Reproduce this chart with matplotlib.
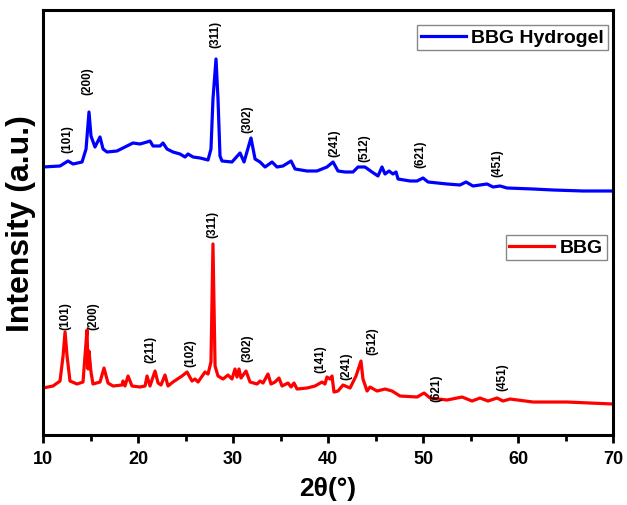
"""
XRD: BBG vs BBG Hydrogel
Patrones leídos a mano de la figura original (intensidad en u.a.).
"""

import matplotlib
matplotlib.use("Agg")
import matplotlib.pyplot as plt

plt.rcParams["font.family"] = ["Liberation Sans", "DejaVu Sans"]
plt.rcParams["font.weight"] = "bold"

# --- datos ---
hidrogel_2theta = [
    10.0, 11.79, 12.63, 13.16, 14.11, 14.53, 14.84, 15.05, 15.47, 16.0,
    16.32, 16.74, 17.79, 18.84, 19.47, 20.21, 20.95, 21.26, 21.58, 22.32,
    22.63, 23.05, 23.68, 24.42, 24.95, 25.26, 25.79, 26.53, 27.37,
    27.68, 27.89, 28.21, 28.42, 28.63, 28.84, 29.89, 30.74, 31.16, 31.89,
    32.32, 32.84, 33.37, 34.11, 34.63, 35.26, 36.11, 36.53, 37.79, 38.84,
    39.89, 40.53, 41.05, 41.79, 42.63, 43.16, 43.89, 44.63, 45.26, 45.68,
    46.0, 46.42, 46.84, 47.16, 47.37, 48.63, 49.37, 50.0, 50.53, 52.53,
    53.89, 54.53, 55.26, 56.74, 57.37, 58.11, 58.84, 61.58, 63.68, 66.84,
    70.0,
]
hidrogel_int = [
    266, 267, 272, 269, 271, 284, 321, 297, 286, 296,
    284, 281, 282, 287, 290, 289, 291, 292, 287, 287,
    290, 284, 281, 279, 276, 279, 276, 275, 273,
    284, 334, 374, 334, 277, 272, 271, 280, 271, 295,
    274, 271, 266, 271, 266, 267, 272, 264, 262, 262,
    266, 271, 262, 261, 261, 266, 266, 261, 257, 266,
    259, 262, 259, 261, 254, 252, 252, 255, 251, 249,
    248, 251, 247, 249, 246, 247, 245, 244, 243, 242,
    242,
]

bbg_2theta = [
    10.0, 11.05, 11.79, 12.11, 12.32, 12.53, 12.84, 13.58, 14.21, 14.42,
    14.63, 14.74, 14.84, 15.05, 15.26, 16.0, 16.42, 16.84, 17.37, 18.32,
    18.42, 18.63, 18.95, 19.37, 20.21, 20.74, 20.95, 21.26, 21.79, 22.11,
    22.42, 22.84, 23.16, 23.68, 24.63, 25.16, 25.68, 26.0, 26.32, 27.05,
    27.37, 27.68, 27.89, 28.11, 28.42, 28.95, 29.47, 29.89, 30.21, 30.42,
    30.63, 30.84, 31.37, 31.79, 32.53, 32.84, 33.16, 33.68, 34.0, 34.42,
    34.84, 35.16, 35.79, 36.11, 36.42, 36.74, 37.79, 38.63, 39.37, 39.68,
    39.89, 40.21, 40.42, 40.63, 41.05, 41.58, 42.32, 42.95, 43.47, 43.68,
    44.11, 44.42, 45.16, 46.0, 46.74, 47.58, 49.37, 50.11, 50.74, 52.53,
    54.11, 55.16, 56.0, 56.84, 57.79, 58.42, 59.16, 61.58, 65.16, 70.0,
]
bbg_int = [
    45, 47, 52, 77, 101, 77, 52, 49, 51, 77,
    103, 64, 82, 61, 49, 51, 65, 50, 47, 48,
    52, 47, 57, 47, 46, 47, 57, 47, 62, 50,
    48, 58, 47, 51, 57, 61, 52, 54, 51, 61,
    59, 71, 189, 67, 57, 54, 58, 54, 64, 56,
    64, 55, 62, 51, 49, 52, 50, 59, 49, 51,
    55, 47, 50, 46, 50, 44, 45, 47, 51, 49,
    56, 54, 57, 41, 42, 48, 45, 57, 72, 54,
    42, 46, 42, 44, 42, 37, 36, 40, 35, 33,
    36, 32, 35, 32, 35, 32, 34, 31, 31, 29,
]

# planos (hkl) marcados en cada patrón
hidrogel_hkl = ["(101)", "(200)", "(311)", "(302)", "(241)", "(512)", "(621)", "(451)"]
hidrogel_hkl_2theta = [12.53, 14.63, 28.11, 31.47, 40.63, 43.79, 49.68, 57.79]
hidrogel_hkl_y = [281, 339, 386, 301, 277, 272, 266, 257]

bbg_hkl = ["(101)", "(200)", "(211)", "(102)", "(311)", "(302)",
           "(141)", "(241)", "(512)", "(621)", "(451)"]
bbg_hkl_2theta = [12.32, 15.26, 21.26, 25.47, 27.79, 31.47,
                  39.16, 41.89, 44.63, 51.37, 58.32]
bbg_hkl_y = [104, 104, 71, 67, 196, 72, 61, 54, 79, 32, 43]

# --- figura ---
fig = plt.figure(figsize=(6.27, 5.06), dpi=100)
ax = fig.add_axes([0.0686, 0.1383, 0.9091, 0.84])

l_hid, = ax.plot(hidrogel_2theta, hidrogel_int, color="#0000ff", lw=2.3,
                 solid_joinstyle="round")
l_bbg, = ax.plot(bbg_2theta, bbg_int, color="#ff0000", lw=2.3,
                 solid_joinstyle="round")

for lab, x, y in zip(hidrogel_hkl, hidrogel_hkl_2theta, hidrogel_hkl_y):
    ax.text(x, y, lab, rotation=90, ha="center", va="bottom", fontsize=8.5, fontweight="bold")
for lab, x, y in zip(bbg_hkl, bbg_hkl_2theta, bbg_hkl_y):
    ax.text(x, y, lab, rotation=90, ha="center", va="bottom", fontsize=8.5, fontweight="bold")

ax.set_xlim(10, 70)
ax.set_ylim(-2, 423)
ax.set_xticks(range(10, 71, 10))
ax.set_xticks(range(15, 70, 10), minor=True)
ax.set_yticks([])
ax.tick_params(axis="x", which="major", direction="out", length=6, width=2, pad=5, labelsize=13)
ax.tick_params(axis="x", which="minor", direction="out", length=4, width=2)
for lbl in ax.get_xticklabels():
    lbl.set_fontweight("bold")
for sp in ax.spines.values():
    sp.set_linewidth(2.2)

ax.set_xlabel("2θ(°)", fontsize=19, fontweight="bold", labelpad=6)
ax.set_ylabel("Intensity (a.u.)", fontsize=23, fontweight="bold", labelpad=5)

leg_kw = dict(loc="upper right", fancybox=False, edgecolor="#888888", framealpha=1,
              borderpad=0.2, handlelength=2.3, handletextpad=0.3, borderaxespad=0,
              prop={"size": 14, "weight": "bold"}, bbox_transform=fig.transFigure)
leg1 = ax.legend([l_hid], ["BBG Hydrogel"], bbox_to_anchor=(608 / 627, 1 - 26 / 506), **leg_kw)
leg1.get_frame().set_linewidth(1.0)
ax.add_artist(leg1)
leg2 = ax.legend([l_bbg], ["BBG"], bbox_to_anchor=(607 / 627, 1 - 236 / 506), **leg_kw)
leg2.get_frame().set_linewidth(1.0)

fig.savefig("out.png", dpi=100)
